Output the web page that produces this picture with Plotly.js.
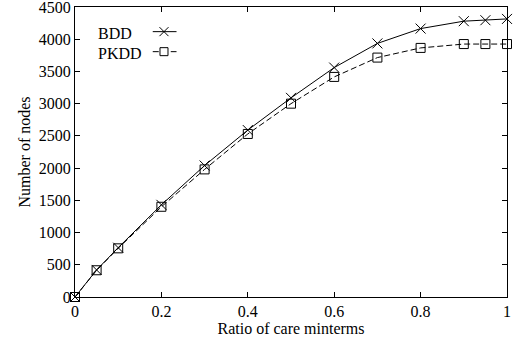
<!DOCTYPE html>
<html>
<head>
<meta charset="utf-8">
<script src="https://cdn.plot.ly/plotly-3.0.1.min.js"></script>
<style>html,body{margin:0;padding:0;background:#fff;}#chart{width:513px;height:342px;}</style>
</head>
<body>
<div id="chart"></div>
<script>
// Data
const ratio = [0, 0.05, 0.1, 0.2, 0.3, 0.4, 0.5, 0.6, 0.7, 0.8, 0.9, 0.95, 1];
const bddNodes = [0, 420, 765, 1430, 2040, 2590, 3090, 3560, 3935, 4165, 4280, 4295, 4315];
const pkddNodes = [0, 415, 755, 1400, 1980, 2530, 3000, 3415, 3715, 3865, 3925, 3925, 3925];
const seriesNames = ["BDD", "PKDD"];
const xTickVals = [0, 0.2, 0.4, 0.6, 0.8, 1];
const xTickText = ["0", "0.2", "0.4", "0.6", "0.8", "1"];
const yTickVals = [0, 500, 1000, 1500, 2000, 2500, 3000, 3500, 4000, 4500];

const font = {family: "Liberation Serif, Times New Roman, serif", size: 16, color: "#000"};

const traces = [
  {x: ratio, y: bddNodes, name: seriesNames[0], type: "scatter", mode: "lines+markers",
   line: {color: "#000", width: 1}, marker: {symbol: "x-thin-open", size: 10, color: "#000", line: {color: "#000", width: 1}},
   cliponaxis: false, showlegend: false},
  {x: ratio, y: pkddNodes, name: seriesNames[1], type: "scatter", mode: "lines+markers",
   line: {color: "#000", width: 1, dash: "6px,3px"}, marker: {symbol: "square-open", size: 9, color: "#000", line: {color: "#000", width: 1}},
   cliponaxis: false, showlegend: false}
];

// Custom gnuplot-style legend (text left, sample right)
const legX0 = 0.18, legX1 = 0.235, legXm = 0.206;
const legY = [0.915, 0.846];
const shapes = [
  {type: "line", xref: "paper", yref: "paper", x0: legX0, x1: legX1, y0: legY[0], y1: legY[0], line: {color: "#000", width: 1}},
  {type: "line", xref: "paper", yref: "paper", x0: legX0, x1: legX1, y0: legY[1], y1: legY[1], line: {color: "#000", width: 1, dash: "6px,3px"}},
  {type: "line", xref: "paper", yref: "paper", xsizemode: "pixel", ysizemode: "pixel", xanchor: legXm, yanchor: legY[0], x0: -4.5, x1: 4.5, y0: -4.5, y1: 4.5, line: {color: "#000", width: 1}},
  {type: "line", xref: "paper", yref: "paper", xsizemode: "pixel", ysizemode: "pixel", xanchor: legXm, yanchor: legY[0], x0: -4.5, x1: 4.5, y0: 4.5, y1: -4.5, line: {color: "#000", width: 1}},
  {type: "rect", xref: "paper", yref: "paper", xsizemode: "pixel", ysizemode: "pixel", xanchor: legXm, yanchor: legY[1], x0: -4, x1: 4, y0: -4, y1: 4, line: {color: "#000", width: 1}, fillcolor: "#fff"}
];
const annotations = seriesNames.map((n, i) => ({
  text: n, xref: "paper", yref: "paper", x: 0.049, y: legY[i] - 0.005, xanchor: "left", yanchor: "middle",
  showarrow: false, font: font
}));

const layout = {
  width: 513, height: 342,
  margin: {l: 75, r: 6, t: 7, b: 45, pad: 0},
  paper_bgcolor: "#fff", plot_bgcolor: "#fff",
  font: font,
  showlegend: false,
  xaxis: {
    range: [0, 1], tickvals: xTickVals, ticktext: xTickText,
    ticks: "inside", ticklen: 5, tickwidth: 1, tickcolor: "#000",
    showline: true, linecolor: "#000", linewidth: 1, mirror: "ticks",
    showgrid: false, zeroline: false, tickfont: font, ticklabeloverflow: "allow",
    title: {text: "Ratio of care minterms", font: font, standoff: 2},
    automargin: false
  },
  yaxis: {
    range: [0, 4500], tickvals: yTickVals,
    ticks: "inside", ticklen: 5, tickwidth: 1, tickcolor: "#000",
    showline: true, linecolor: "#000", linewidth: 1, mirror: "ticks",
    showgrid: false, zeroline: false, tickfont: font, ticklabeloverflow: "allow",
    title: {text: "Number of nodes", font: font, standoff: 4},
    automargin: false
  },
  shapes: shapes,
  annotations: annotations
};

Plotly.newPlot("chart", traces, layout, {displayModeBar: false, staticPlot: true});
</script>
</body>
</html>
